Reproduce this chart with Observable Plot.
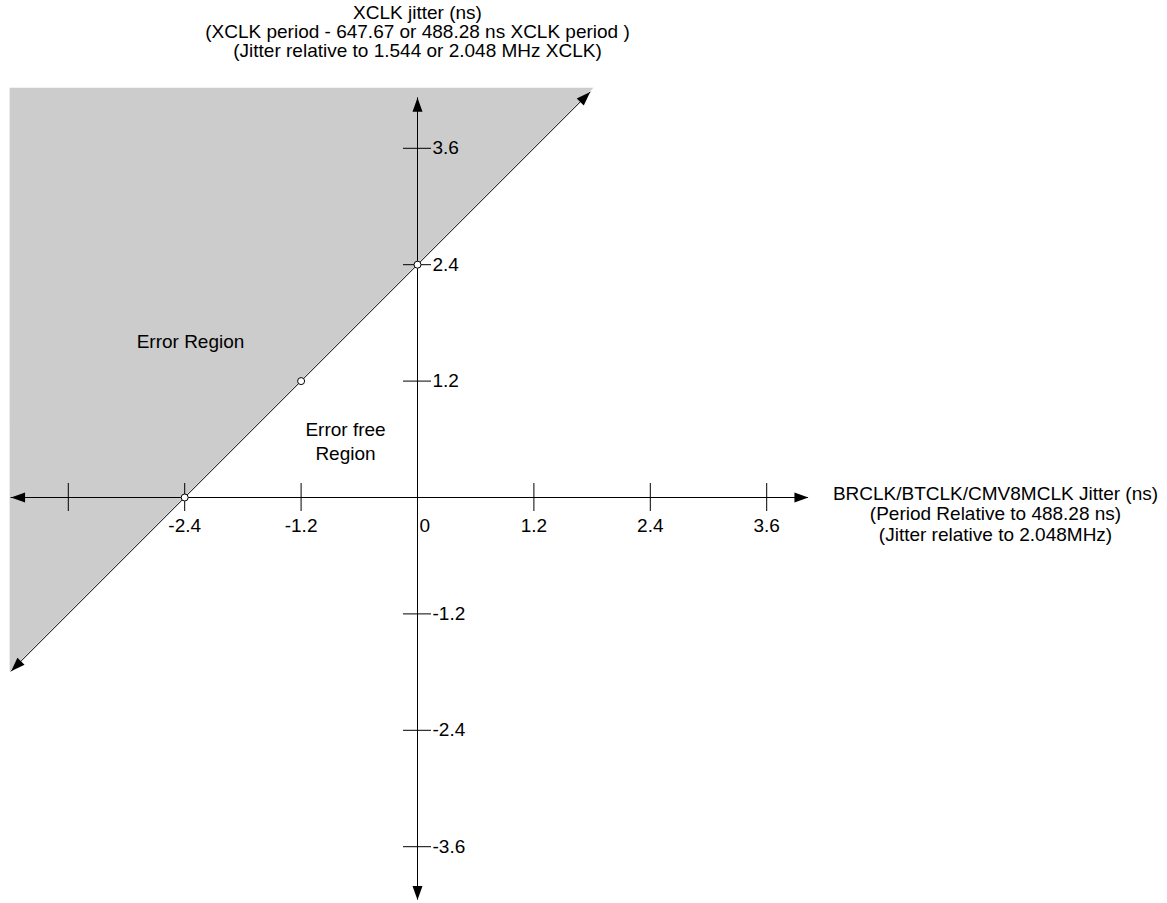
<!DOCTYPE html>
<html>
<head>
<meta charset="utf-8">
<script src="https://cdn.jsdelivr.net/npm/d3@7"></script>
<script src="https://cdn.jsdelivr.net/npm/@observablehq/plot@0.6"></script>
<style>
  html, body { margin: 0; padding: 0; background: #fff; }
  #chart svg { display: block; }
</style>
</head>
<body>
<div id="chart"></div>
<script>
// ---- data ----
const xTicks = [-3.6, -2.4, -1.2, 1.2, 2.4, 3.6];
const xTickLabels = ["", "-2.4", "-1.2", "1.2", "2.4", "3.6"];
const yTicks = [-3.6, -2.4, -1.2, 1.2, 2.4, 3.6];
const yTickLabels = ["-3.6", "-2.4", "-1.2", "1.2", "2.4", "3.6"];
const zeroLabel = "0";
// boundary line y = x + 2.4 (ends of the drawn arrow)
const boundaryX = [-4.19, 1.78];
const boundaryY = [-1.79, 4.18];
// shaded error region (left of / above boundary)
const shadeX = [-4.2, 1.82];
const shadeY1 = [-1.8, 4.22];
const shadeY2 = [4.22, 4.22];
// marked points on boundary
const markX = [-2.4, -1.2, 0];
const markY = [0, 1.2, 2.4];
// axes extents
const hAxisX = [-4.19, 4.03];
const vAxisY = [-4.15, 4.12];
const titleLines = [
  "XCLK jitter (ns)",
  "(XCLK period - 647.67 or 488.28 ns XCLK period )",
  "(Jitter relative to 1.544 or 2.048 MHz XCLK)"
];
const xAxisLabelLines = [
  "BRCLK/BTCLK/CMV8MCLK Jitter (ns)",
  "(Period Relative to 488.28 ns)",
  "(Jitter relative to 2.048MHz)"
];
const errorRegionLabel = "Error Region";
const errorFreeLabel = ["Error free", "Region"];

// ---- layout ----
const W = 1167, H = 903;
const PPU = 97;             // pixels per data unit
const OX = 417, OY = 497;   // pixel position of origin
const xDomain = [-OX / PPU, (W - OX) / PPU];
const yDomain = [-(H - OY) / PPU, OY / PPU];
const tickHalf = 14 / PPU;
const FONT = "Liberation Sans, Arial, Helvetica, sans-serif";
const FS = 19;

const shade = shadeX.map((x, i) => ({x, y1: shadeY1[i], y2: shadeY2[i]}));
const boundary = boundaryX.map((x, i) => ({x, y: boundaryY[i]}));
const marks = markX.map((x, i) => ({x, y: markY[i]}));
const xt = xTicks.map((v, i) => ({v, label: xTickLabels[i]}));
const yt = yTicks.map((v, i) => ({v, label: yTickLabels[i]}));
const arrows = [
  {x: hAxisX[1], y: 0, a: 90},
  {x: hAxisX[0], y: 0, a: -90},
  {x: 0, y: vAxisY[1], a: 0},
  {x: 0, y: vAxisY[0], a: 180},
  {x: boundaryX[1], y: boundaryY[1], a: 45},
  {x: boundaryX[0], y: boundaryY[0], a: 225}
];

const chart = Plot.plot({
  width: W,
  height: H,
  margin: 0,
  x: {domain: xDomain, axis: null},
  y: {domain: yDomain, axis: null},
  style: {fontFamily: FONT, fontSize: FS + "px", color: "#000", background: "#fff"},
  marks: [
    Plot.areaY(shade, {x: "x", y1: "y1", y2: "y2", fill: "#cccccc"}),
    // axes
    Plot.ruleY([0], {x1: hAxisX[0], x2: hAxisX[1], stroke: "#000", strokeWidth: 1}),
    Plot.ruleX([0], {y1: vAxisY[0], y2: vAxisY[1], stroke: "#000", strokeWidth: 1}),
    // ticks
    Plot.ruleX(xt, {x: "v", y1: -tickHalf, y2: tickHalf, stroke: "#000", strokeWidth: 1}),
    Plot.ruleY(yt, {y: "v", x1: -tickHalf, x2: tickHalf, stroke: "#000", strokeWidth: 1}),
    // boundary
    Plot.line(boundary, {x: "x", y: "y", stroke: "#000", strokeWidth: 1}),
    // arrowheads
    Plot.vector(arrows, {x: "x", y: "y", rotate: "a", shape: "spike", length: 14, r: 5, anchor: "end", fill: "#000", stroke: "none"}),
    // points
    Plot.dot(marks, {x: "x", y: "y", r: 3.5, fill: "#fff", stroke: "#000", strokeWidth: 1}),
    // tick labels
    Plot.text(xt.filter(d => d.label), {x: "v", y: () => 0, text: "label", dy: 28, fontSize: FS, fill: "#000"}),
    Plot.text([zeroLabel], {x: () => 0, y: () => 0, text: d => d, dx: 2, dy: 28, textAnchor: "start", fontSize: FS, fill: "#000"}),
    Plot.text(yt, {x: () => 0, y: "v", text: "label", dx: 15, textAnchor: "start", fontSize: FS, fill: "#000"}),
    // titles
    Plot.text([titleLines.join("\n")], {x: () => 0, frameAnchor: "top", lineAnchor: "top", dy: 5, lineHeight: 1.0, fontSize: FS, fill: "#000"}),
    Plot.text([xAxisLabelLines.join("\n")], {x: () => (995 - OX) / PPU, y: () => (OY - 513) / PPU, lineAnchor: "middle", lineHeight: 1.08, fontSize: FS, fill: "#000"}),
    // region labels
    Plot.text([errorRegionLabel], {x: () => (190 - OX) / PPU, y: () => (OY - 341) / PPU, fontSize: FS, fill: "#000"}),
    Plot.text([errorFreeLabel.join("\n")], {x: () => (345 - OX) / PPU, y: () => (OY - 440) / PPU, lineAnchor: "middle", lineHeight: 1.25, fontSize: FS, fill: "#000"})
  ]
});
document.getElementById("chart").appendChild(chart);
</script>
</body>
</html>
